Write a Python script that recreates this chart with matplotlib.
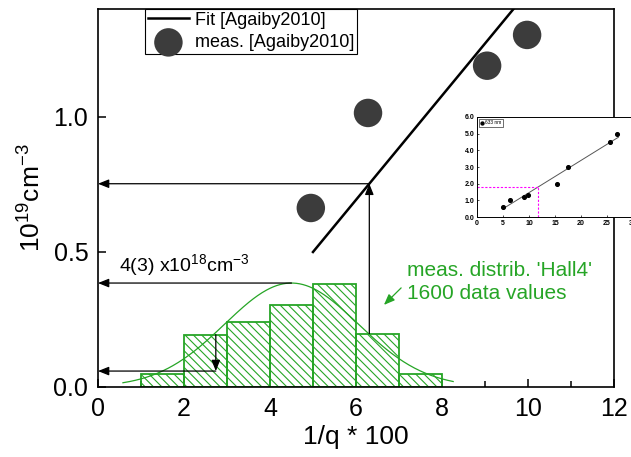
import matplotlib
matplotlib.use("Agg")
import matplotlib.pyplot as plt
import numpy as np

plt.rcParams['font.family'] = ['Liberation Sans', 'DejaVu Sans']
plt.rcParams['hatch.linewidth'] = 0.8
plt.rcParams['mathtext.fontset'] = 'custom'
plt.rcParams['mathtext.rm'] = 'Liberation Sans'

# ---- data ----
# measured points [Agaiby2010]
meas_x = [4.95, 6.28, 9.05, 9.98]
meas_y = [0.663, 1.015, 1.19, 1.304]
# linear fit [Agaiby2010]: y = fit_a * x + fit_b
fit_a = 0.193
fit_b = -0.465
fit_x = [5.0, 10.0]

# histogram of measured distribution 'Hall4'
bin_left = [1, 2, 3, 4, 5, 6, 7]
bin_height = [0.048, 0.194, 0.241, 0.304, 0.383, 0.198, 0.049]
# gaussian drawn over the histogram
g_mu = 4.5
g_sigma = 1.55
g_amp = 0.385
g_range = [0.58, 8.26]

# read-off arrows
x_read = 6.31         # vertical arrow up to the fit
x_low = 2.74          # small arrow down
y_low = 0.059

# inset (633 nm)
ins_x = [5.0, 6.3, 9.1, 9.9, 15.4, 17.6, 25.6, 27.0]
ins_y = [0.6, 1.0, 1.2, 1.3, 2.0, 3.0, 4.5, 5.0]
ins_fit_x = [5.0, 27.2]
ins_read_x = 11.67

green = '#26a526'

fig = plt.figure(figsize=(6.31, 4.57), dpi=100)
ax = fig.add_axes([0.1553, 0.1532, 0.8177, 0.8271])

# histogram
ax.bar(bin_left, bin_height, width=1, align='edge', facecolor='none',
       edgecolor=green, hatch='\\\\\\\\', linewidth=1.3, zorder=2)
gx = np.linspace(g_range[0], g_range[1], 300)
gy = g_amp * np.exp(-(gx - g_mu) ** 2 / (2 * g_sigma ** 2))
ax.plot(gx, gy, color=green, lw=0.9, zorder=2)

# fit and measurements
fx = np.array(fit_x)
ax.plot(fx, fit_a * fx + fit_b, color='black', lw=1.8, label='Fit [Agaiby2010]', zorder=3)
ax.scatter(meas_x, meas_y, s=420, color='#3c3c3c', edgecolors='none',
           label='meas. [Agaiby2010]', zorder=4)

# arrows
arr = dict(arrowstyle='-|>,head_length=0.5,head_width=0.2', color='black', lw=0.9,
           mutation_scale=13, shrinkA=0, shrinkB=0)
y_read = fit_a * x_read + fit_b
top_of_bin = bin_height[bin_left.index(6)]
ax.annotate('', xy=(x_read, y_read), xytext=(x_read, top_of_bin), arrowprops=arr)
ax.annotate('', xy=(0, y_read), xytext=(x_read, y_read), arrowprops=arr)
ax.annotate('', xy=(0, g_amp), xytext=(g_mu, g_amp), arrowprops=arr)
ax.annotate('', xy=(x_low, y_low), xytext=(x_low, bin_height[bin_left.index(2)]), arrowprops=arr)
ax.annotate('', xy=(0, y_low), xytext=(x_low, y_low), arrowprops=arr)

ax.text(0.49, 0.45, r'4(3) x10$^{18}$cm$^{-3}$', fontsize=14, va='center', ha='left')
ax.text(7.19, 0.433, "meas. distrib. 'Hall4'", fontsize=15, color=green, va='center')
ax.text(7.19, 0.348, "1600 data values", fontsize=15, color=green, va='center')
ax.annotate('', xy=(6.65, 0.304), xytext=(7.05, 0.367),
            arrowprops=dict(arrowstyle='-|>,head_length=0.5,head_width=0.2', color=green,
                            lw=0.9, mutation_scale=13, shrinkA=0, shrinkB=0))

ax.set_xlim(0, 12)
ax.set_ylim(0, 1.40)
ax.set_xticks(np.arange(0, 13, 2))
ax.set_xticks(np.arange(1, 12, 2), minor=True)
ax.set_yticks([0.0, 0.5, 1.0])
ax.set_yticklabels(['0.0', '0.5', '1.0'])
ax.tick_params(direction='in', labelsize=18, length=6, width=1.1, top=False, right=False, pad=7)
ax.tick_params(which='minor', direction='in', length=4, width=1.1)
for s in ax.spines.values():
    s.set_linewidth(1.2)
ax.set_xlabel('1/q * 100', fontsize=19, labelpad=3)
ax.set_ylabel(r'10$^{19}$cm$^{-3}$', fontsize=19, labelpad=6)

leg = ax.legend(loc='upper left', bbox_to_anchor=(0.091, 1.0), borderaxespad=0,
                fontsize=13, fancybox=False, edgecolor='black', framealpha=1,
                borderpad=0.15, labelspacing=0.3, handlelength=2.3, handletextpad=0.3)
leg.get_frame().set_linewidth(0.8)

# inset
ins = fig.add_axes([0.756, 0.525, 0.247, 0.219])
ins.set_facecolor('white')
ins.scatter(ins_x, ins_y, s=7, color='black', zorder=3, label='633 nm')
ifx = np.array(ins_fit_x)
ins.plot(ifx, fit_a * ifx + fit_b, color='#555555', lw=0.7)
ins_read_y = fit_a * ins_read_x + fit_b
ins.plot([0, ins_read_x], [ins_read_y, ins_read_y], color='#ff00ff', lw=0.8, ls=(0, (2, 1.5)))
ins.plot([ins_read_x, ins_read_x], [0, ins_read_y], color='#ff00ff', lw=0.8, ls=(0, (2, 1.5)))
ins.set_xlim(0, 30)
ins.set_ylim(0, 6)
ins.set_xticks(np.arange(0, 31, 5))
ins.set_yticks(np.arange(0, 6.1, 1))
ins.set_yticklabels(['%.1f' % v for v in np.arange(0, 6.1, 1)])
ins.tick_params(direction='in', labelsize=5, length=1.5, width=0.5, pad=2)
for lab in ins.get_xticklabels() + ins.get_yticklabels():
    lab.set_fontweight('bold')
for s in ins.spines.values():
    s.set_linewidth(0.7)
il = ins.legend(loc='upper left', fontsize=3.5, fancybox=False, edgecolor='black',
                framealpha=1, borderpad=0.3, handlelength=0.6, handletextpad=0.3,
                markerscale=0.8, borderaxespad=0.4)
il.get_frame().set_linewidth(0.4)

fig.savefig('out.png', dpi=100)
